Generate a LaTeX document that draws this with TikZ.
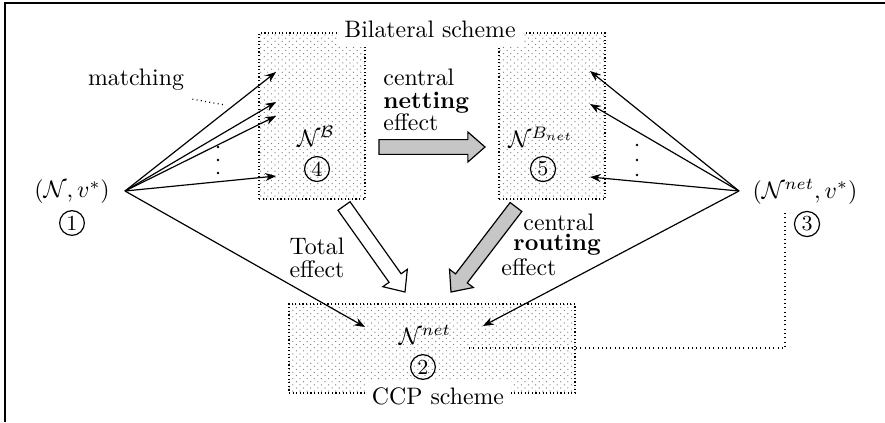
\documentclass[tikz,border=0pt]{standalone}
\usetikzlibrary{arrows.meta,calc,patterns}

% light stippling used inside the scheme boxes
\pgfdeclarepatternformonly{finedots}{\pgfqpoint{-0.4pt}{-0.4pt}}{\pgfqpoint{1.9pt}{1.7pt}}{\pgfqpoint{3pt}{2.6pt}}{%
  \pgfpathcircle{\pgfqpoint{0pt}{0pt}}{0.26pt}%
  \pgfpathcircle{\pgfqpoint{1.5pt}{1.3pt}}{0.26pt}%
  \pgfusepath{fill}}

\def\u{0.42pt}

% thick block arrow from #2 (tail centre) to #3 (tip), filled with #1
\newcommand\fatarrow[3]{%
  \path ($(#3)!7.2pt!(#2)$) coordinate (neck);
  \draw[line width=0.5pt, fill=#1]
    ($(#2)!3.1pt!90:(#3)$) -- ($(neck)!3.1pt!90:(#3)$) -- ($(neck)!6.3pt!90:(#3)$)
    -- (#3)
    -- ($(neck)!6.3pt!-90:(#3)$) -- ($(neck)!3.1pt!-90:(#3)$) -- ($(#2)!3.1pt!-90:(#3)$)
    -- cycle;}

\tikzset{
  schemebox/.style={draw, densely dotted, line width=0.5pt, pattern=finedots,
    pattern color=black!55, inner sep=0pt},
  numc/.style={draw, circle, inner sep=1pt, font=\small, line width=0.5pt},
  conn/.style={-{Stealth[length=4.5pt,width=3.4pt]}, line width=0.5pt},
  conndot/.style={line width=0.5pt, dash pattern=on 0.4pt off 1.4pt},
  stacked/.style={inner sep=0pt, font=\fontsize{10}{9.5}\selectfont},
  caption/.style={fill=white, inner sep=3pt},
}

\begin{document}
\begin{tikzpicture}[x=0.42pt, y=-0.42pt]
\useasboundingbox (0,0) rectangle (885,422);

% frame
\draw[line width=0.8pt] (5,422) -- (5,3) -- (885,3);

% scheme boxes
\node[schemebox, minimum width=106*\u, minimum height=166*\u] (bil) at (312,116) {};
\node[schemebox, minimum width=106*\u, minimum height=166*\u] (bnet) at (552,116) {};
\node[schemebox, minimum width=286*\u, minimum height=89*\u] (ccp) at (432,348.5) {};

% box captions
\node[caption] (bilcap) at (430,29) {Bilateral scheme};

% dotted link from (3) down into the CCP box
\coordinate (dotstart) at (785,213);
\coordinate (dotend) at (467,348);
\draw[conndot] (dotstart) |- (dotend);

\node[caption] (ccpcap) at (438,396) {CCP scheme};

% contents of the boxes
\node (nb) at (316,136) {$\mathcal{N}^{\mathcal{B}}$};
\node[numc] (n4) at (317,169) {4};
\node (nbn) at (541,137) {$\mathcal{N}^{B_{net}}$};
\node[numc] (n5) at (543,169) {5};
\node (nnet) at (425,335) {$\mathcal{N}^{net}$};
\node[numc] (n2) at (423,367) {2};

% outer networks
\node (src) at (72,192) {$(\mathcal{N}, v^*)$};
\node[numc] (n1) at (72,223) {1};
\node (dst) at (805,192) {$(\mathcal{N}^{net}, v^*)$};
\node[numc] (n3) at (807,224) {3};

% matching arrows from the original network
\coordinate (srcpt) at (125,191);
\coordinate (t1) at (276,72);
\coordinate (t2) at (276,102);
\coordinate (t3) at (276,116);
\coordinate (t4) at (276,176);
\coordinate (tc) at (365,327);
\foreach \t in {t1,t2,t3,t4,tc} \draw[conn] (srcpt) -- (\t);
\foreach \y in {147,160,173} \fill (218,\y) circle (0.6pt);

% arrows from the netted network
\coordinate (dstpt) at (739,191);
\coordinate (r1) at (590,71);
\coordinate (r2) at (590,104);
\coordinate (r3) at (590,177);
\coordinate (rc) at (483,326);
\foreach \t in {r1,r2,r3,rc} \draw[conn] (dstpt) -- (\t);
\foreach \y in {145,160,175} \fill (637,\y) circle (0.6pt);

% matching label
\node (match) at (136,80) {matching};
\coordinate (mpt) at (225,105);
\draw[conndot] (match.south east) -- (mpt);

% effect arrows
\coordinate (na) at (379,147);  \coordinate (nt) at (485,147);
\coordinate (ta) at (344,206);  \coordinate (tt) at (405,292);
\coordinate (ra) at (516,207);  \coordinate (rt) at (451,292);
\fatarrow{gray!45}{na}{nt}
\fatarrow{white}{ta}{tt}
\fatarrow{gray!45}{ra}{rt}

\node[stacked, align=left, anchor=west] (netlbl) at (383,100) {central\\\textbf{netting}\\effect};
\node[stacked, align=center] (totlbl) at (317,258) {Total\\effect};
\node[stacked, anchor=west] (rl1) at (523,222) {central};
\node[stacked, anchor=west] (rl2) at (513,245) {\textbf{routing}};
\node[stacked, anchor=west] (rl3) at (501,267) {effect};
\end{tikzpicture}
\end{document}
